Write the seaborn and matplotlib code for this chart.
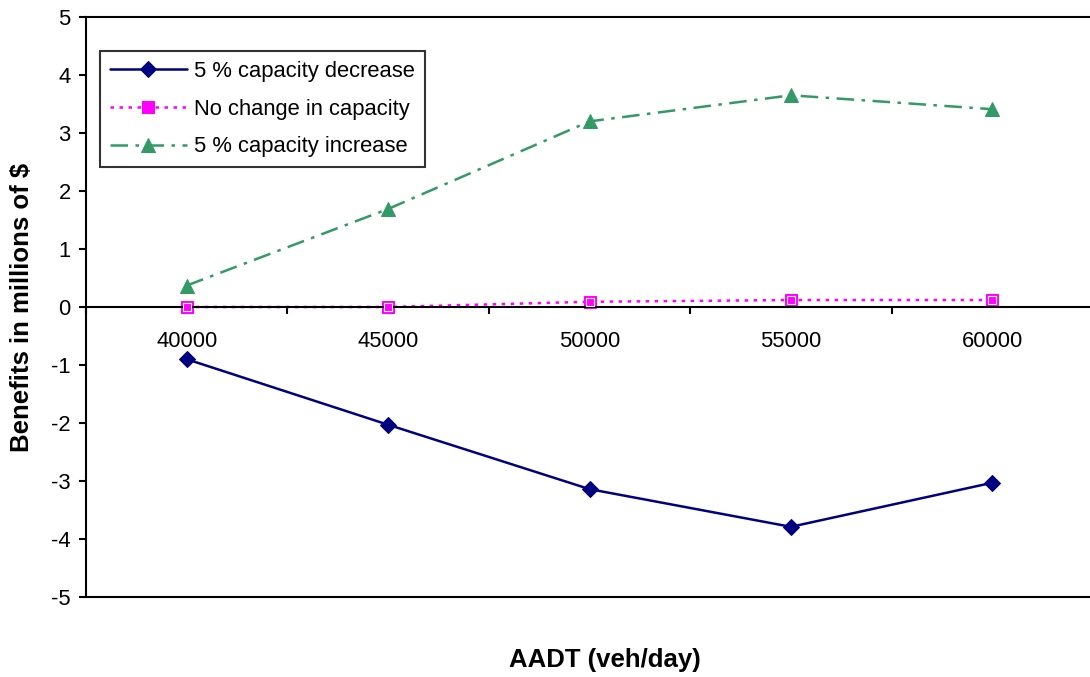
import numpy as np
import pandas as pd
import matplotlib
matplotlib.use("Agg")
import matplotlib.pyplot as plt
from matplotlib.ticker import FixedLocator
import seaborn as sns

# Benefit estimates (millions of $) by traffic volume
aadt = ["40000", "45000", "50000", "55000", "60000"]
cap_decrease = [-0.90, -2.03, -3.14, -3.79, -3.03]
cap_nochange = [0.00, 0.00, 0.09, 0.12, 0.12]
cap_increase = [0.37, 1.69, 3.20, 3.65, 3.41]
series_names = ["5 % capacity decrease", "No change in capacity", "5 % capacity increase"]

sns.set_theme(style="white")
plt.rcParams["font.family"] = ["Liberation Sans", "DejaVu Sans"]
plt.rcParams["text.color"] = "black"

W, H, DPI = 1090, 677, 100
fig = plt.figure(figsize=(W / DPI, H / DPI), dpi=DPI)
ax = fig.add_axes([86 / W, 1 - 597 / H, 1007 / W, 580 / H])

pos = np.arange(len(aadt))
df = pd.DataFrame({
    "pos": np.tile(pos, 3),
    "value": cap_decrease + cap_nochange + cap_increase,
    "series": np.repeat(series_names, len(aadt)),
})

styles = {
    series_names[0]: dict(color="#000080", marker="D", ms=8.5, dashes=None),
    series_names[1]: dict(color="#FF00FF", marker="s", ms=8.5, dashes=(1.4, 2.2)),
    series_names[2]: dict(color="#339966", marker="^", ms=10, dashes=(7, 3, 1.4, 3)),
}

for name in series_names:
    st = styles[name]
    sub = df[df["series"] == name]
    sns.lineplot(data=sub, x="pos", y="value", ax=ax, label=name,
                 color=st["color"], marker=st["marker"], markersize=st["ms"],
                 markeredgecolor=st["color"], linewidth=1.8, estimator=None, sort=False)
    if st["dashes"] is not None:
        ax.lines[-1].set_dashes(st["dashes"])

# white inner highlight on the square markers
ax.plot(pos, cap_nochange, linestyle="none", marker="s", ms=5.5,
        mfc="#FF00FF", mec="white", mew=0.8, zorder=5)

ax.set_xlim(-0.5, len(aadt) - 0.5)
ax.set_ylim(-5, 5)
ax.set_yticks(np.arange(-5, 6, 1))
ax.set_yticklabels([str(v) for v in range(-5, 6)])

# category axis crossing at zero
ax.spines["bottom"].set_position(("data", 0))
for s in ["left", "top", "bottom", "right"]:
    ax.spines[s].set_color("black")
    ax.spines[s].set_linewidth(1.5)
ax.axhline(-5, color="black", linewidth=1.5, clip_on=False, zorder=3)

ax.set_xticks(pos)
ax.set_xticklabels(aadt)
ax.xaxis.set_minor_locator(FixedLocator(np.arange(-0.5, len(aadt), 1.0)))
ax.tick_params(axis="x", which="major", length=0, pad=17, labelsize=15.8, colors="black")
ax.tick_params(axis="x", which="minor", bottom=True, length=5, width=1.5, direction="out", color="black")
ax.tick_params(axis="y", which="major", left=True, length=5, width=1.5, direction="out",
               pad=6, labelsize=15.8, colors="black")

ax.set_xlabel("")
ax.set_ylabel("")
fig.text(22 / W, 1 - 307 / H, "Benefits in millions of $", rotation=90, ha="center", va="center",
         fontsize=18.5, fontweight="bold", color="black")
fig.text(605 / W, 1 - 660 / H, "AADT (veh/day)", ha="center", va="center",
         fontsize=18.5, fontweight="bold", color="black")

leg = ax.legend(loc="upper left", bbox_to_anchor=((100 - 86) / 1007, (597 - 51) / 580),
                frameon=True, fancybox=False, shadow=False, fontsize=15.8,
                handlelength=3.5, handletextpad=0.35, labelspacing=0.76, borderpad=0.45,
                borderaxespad=0)
leg.get_frame().set_edgecolor("black")
leg.get_frame().set_linewidth(1.5)
for t in leg.get_texts():
    t.set_color("black")

fig.savefig("out.png", dpi=DPI, facecolor="white")
